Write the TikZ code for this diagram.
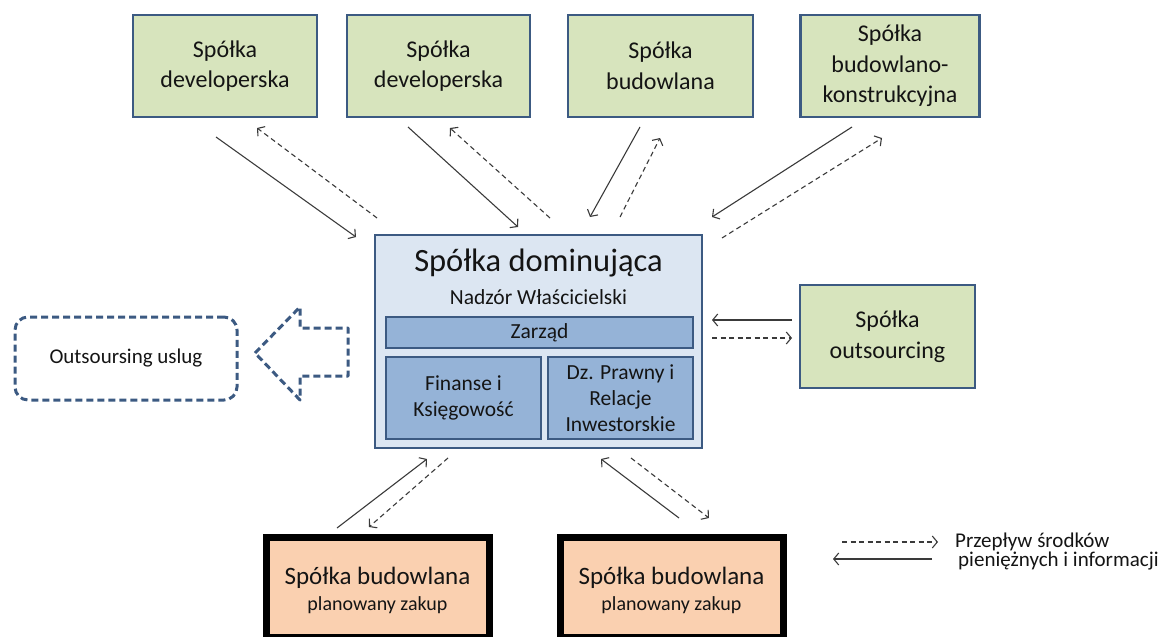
\documentclass[tikz,border=0pt]{standalone}
\usepackage{fontspec}
\setmainfont{Carlito}
\usetikzlibrary{arrows.meta}
\definecolor{bord}{HTML}{3C5A82}
\definecolor{greenfill}{HTML}{D7E4BD}
\definecolor{bluefill}{HTML}{DCE6F2}
\definecolor{innerfill}{HTML}{95B3D7}
\definecolor{peach}{HTML}{FAD0B0}
\definecolor{arrowc}{HTML}{3A3A3A}
\definecolor{txt}{HTML}{141414}
\begin{document}
\begin{tikzpicture}[x=1pt,y=-1pt,
  every node/.style={text=txt},
  greenbox/.style={draw=bord, line width=2.6pt, fill=greenfill, minimum height=102pt, align=center,
     font=\fontsize{24}{30.5}\selectfont, inner sep=0pt},
  innerbox/.style={draw=bord, line width=2.2pt, fill=innerfill, align=center, inner sep=0pt,
     font=\fontsize{21.5}{26}\selectfont},
  peachbox/.style={draw=black, line width=7pt, fill=peach, align=center, inner sep=0pt,
     minimum width=223pt, minimum height=100pt},
  flow/.style={draw=arrowc, line width=1.1pt, -{Straight Barb[length=5pt,width=12pt,line width=1.1pt]}},
  cash/.style={flow, dash pattern=on 5pt off 3.5pt},
  lbl/.style={font=\fontsize{21}{24}\selectfont, inner sep=0pt}
]
\useasboundingbox (0,0) rectangle (1170,637);

% top boxes
\node[greenbox, minimum width=184pt] (t1) at (225,66) {Spółka\\developerska};
\node[greenbox, minimum width=183pt] (t2) at (438.5,66) {Spółka\\developerska};
\node[greenbox, minimum width=185pt] (t3) at (660.5,66) {Spółka\\budowlana};
\node[greenbox, minimum width=179pt] (t4) at (890,66) {Spółka\\budowlano-\\konstrukcyjna};

% central box
\node[draw=bord, line width=2.6pt, fill=bluefill, minimum width=327pt, minimum height=213pt] (c) at (538.5,341.5) {};
\node[inner sep=0pt, font=\fontsize{32.5}{36}\selectfont] (ctitle) at (538.5,263) {Spółka dominująca};
\node[inner sep=0pt, font=\fontsize{21.5}{26}\selectfont] (csub) at (538.5,297) {Nadzór Właścicielski};
\node[innerbox, minimum width=307pt, minimum height=31pt] (zarz) at (539.5,332.5) {Zarząd};
\node[innerbox, minimum width=155pt, minimum height=82pt] (fin) at (463.5,398) {Finanse i\\Księgowość};
\node[innerbox, minimum width=145pt, minimum height=82pt] (dz) at (620.5,398) {Dz. Prawny i\\Relacje\\Inwestorskie};

% outsourcing company box
\node[greenbox, minimum width=175pt, minimum height=103pt] (out) at (887.5,336.5) {Spółka\\outsourcing};

% outsourcing services (dashed)
\node[draw=bord, line width=3pt, dash pattern=on 7pt off 4pt, rounded corners=13pt,
      minimum width=222pt, minimum height=83pt, font=\fontsize{21}{24}\selectfont] (serv) at (126,358.5) {Outsoursing uslug};

% block arrow (dashed outline)
\draw[draw=bord, line width=3pt, dash pattern=on 7pt off 4pt, line join=round, fill=white]
  (255,353) -- (300,307) -- (300,328) -- (348,328) -- (348,376) -- (300,376) -- (300,400) -- cycle;

% bottom boxes
\node[peachbox] (b1) at (377.5,587) {};
\node[peachbox] (b2) at (671.5,587) {};
\node[inner sep=0pt, font=\fontsize{25}{30}\selectfont] (b1t) at (377.5,578) {Spółka budowlana};
\node[inner sep=0pt, font=\fontsize{20}{24}\selectfont] (b1s) at (377.5,605) {planowany zakup};
\node[inner sep=0pt, font=\fontsize{25}{30}\selectfont] (b2t) at (671.5,578) {Spółka budowlana};
\node[inner sep=0pt, font=\fontsize{20}{24}\selectfont] (b2s) at (671.5,605) {planowany zakup};

% arrow end points
\coordinate (a1s) at (216,137); \coordinate (a1e) at (356,237);
\coordinate (d1s) at (377,218); \coordinate (d1e) at (257,128);
\coordinate (a2s) at (408,127); \coordinate (a2e) at (518,227);
\coordinate (d2s) at (550,218); \coordinate (d2e) at (450,128);
\coordinate (a3s) at (640,127); \coordinate (a3e) at (590,217);
\coordinate (d3s) at (620,217); \coordinate (d3e) at (660,138);
\coordinate (a4s) at (852,127); \coordinate (a4e) at (712,217);
\coordinate (d4s) at (722,238); \coordinate (d4e) at (882,138);
\coordinate (a5s) at (792,320); \coordinate (a5e) at (712,320);
\coordinate (d5s) at (712,338); \coordinate (d5e) at (792,338);
\coordinate (a6s) at (337,528); \coordinate (a6e) at (427,459);
\coordinate (d6s) at (448,458); \coordinate (d6e) at (369,527);
\coordinate (a7s) at (679,518); \coordinate (a7e) at (601,459);
\coordinate (d7s) at (631,458); \coordinate (d7e) at (709,518);
\coordinate (ld1) at (842,542); \coordinate (ld2) at (938,542);
\coordinate (ls1) at (932,559); \coordinate (ls2) at (833,559);

\draw[flow] (a1s) -- (a1e);  \draw[cash] (d1s) -- (d1e);
\draw[flow] (a2s) -- (a2e);  \draw[cash] (d2s) -- (d2e);
\draw[flow] (a3s) -- (a3e);  \draw[cash] (d3s) -- (d3e);
\draw[flow] (a4s) -- (a4e);  \draw[cash] (d4s) -- (d4e);
\draw[flow] (a5s) -- (a5e);  \draw[cash] (d5s) -- (d5e);
\draw[flow] (a6s) -- (a6e);  \draw[cash] (d6s) -- (d6e);
\draw[flow] (a7s) -- (a7e);  \draw[cash] (d7s) -- (d7e);

% legend
\draw[cash] (ld1) -- (ld2);
\draw[flow] (ls1) -- (ls2);
\node[lbl, anchor=west] (leg1) at (955,542) {Przepływ środków};
\node[lbl, anchor=west] (leg2) at (958,561) {pieniężnych i informacji};
\end{tikzpicture}
\end{document}
